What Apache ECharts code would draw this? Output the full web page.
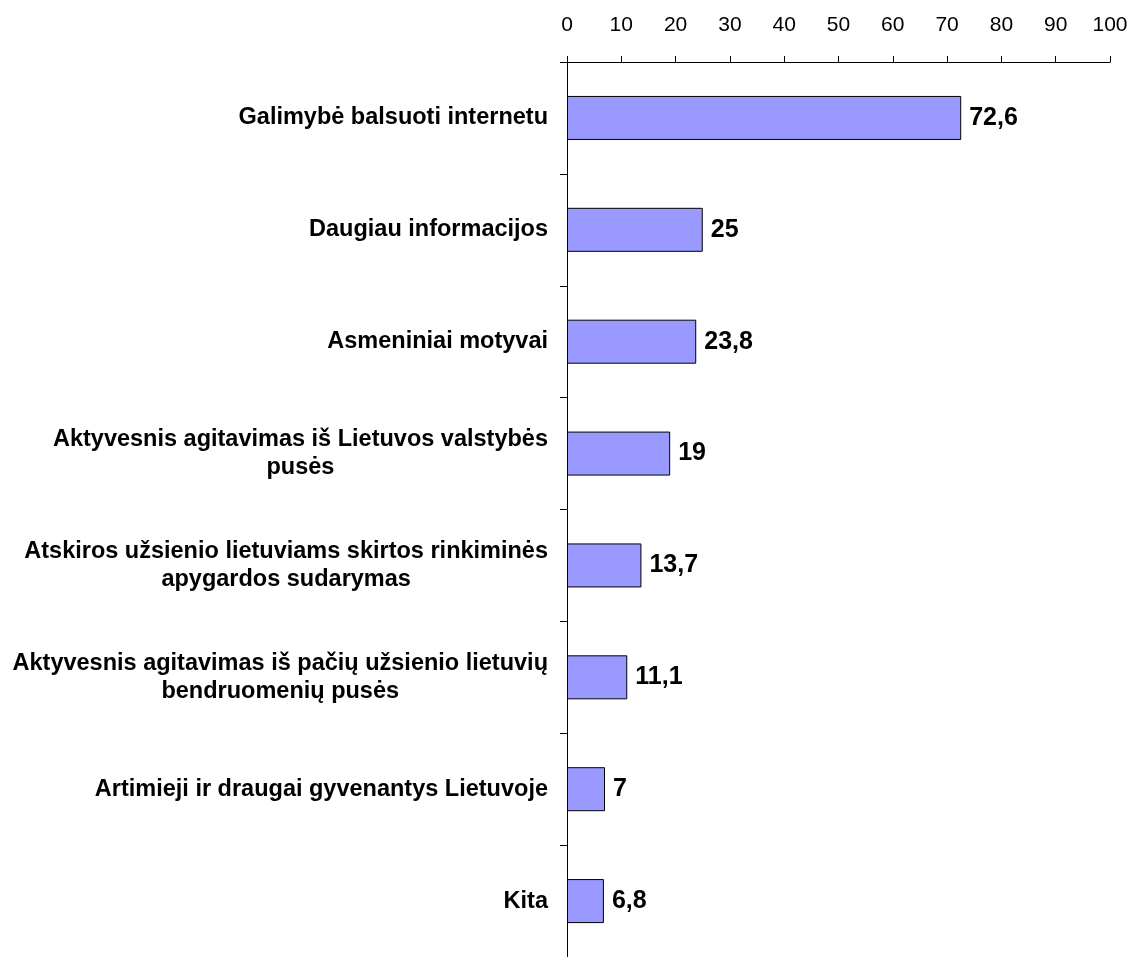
<!DOCTYPE html>
<html>
<head>
<meta charset="utf-8">
<script src="https://cdn.jsdelivr.net/npm/echarts@6/dist/echarts.min.js"></script>
<style>
html,body{margin:0;padding:0;background:#fff;}
#c{width:1139px;height:957px;}
</style>
</head>
<body>
<div id="c"></div>
<script>
const categories = [
  'Galimybė balsuoti internetu',
  'Daugiau informacijos',
  'Asmeniniai motyvai',
  'Aktyvesnis agitavimas iš Lietuvos valstybės\npusės',
  'Atskiros užsienio lietuviams skirtos rinkiminės\napygardos sudarymas',
  'Aktyvesnis agitavimas iš pačių užsienio lietuvių\nbendruomenių pusės',
  'Artimieji ir draugai gyvenantys Lietuvoje',
  'Kita'
];
const values = [72.6, 25, 23.8, 19, 13.7, 11.1, 7, 6.8];
const xTicks = { min: 0, max: 100, interval: 10 };

const chart = echarts.init(document.getElementById('c'), null, { renderer: 'canvas' });
const font = 'Liberation Sans, Arial, sans-serif';
chart.setOption({
  animation: false,
  backgroundColor: '#ffffff',
  grid: { left: 567, right: 29, top: 62, height: 898, containLabel: false },
  xAxis: {
    type: 'value', position: 'top',
    min: xTicks.min, max: xTicks.max, interval: xTicks.interval,
    axisLine: { show: true, lineStyle: { color: '#000', width: 1 } },
    axisTick: { show: true, length: 6, lineStyle: { color: '#000' } },
    splitLine: { show: false },
    axisLabel: { color: '#000', fontSize: 21, fontFamily: font, margin: 26 }
  },
  yAxis: {
    type: 'category', inverse: true, data: categories,
    axisLine: { show: true, lineStyle: { color: '#000', width: 1 } },
    axisTick: { show: true, length: 7, lineStyle: { color: '#000' } },
    axisLabel: {
      margin: 19, interval: 0,
      formatter: v => v.split('\n').map(s => '{c|' + s + '}').join('\n'),
      rich: { c: { align: 'center', color: '#000', fontSize: 23.5, fontWeight: 'bold', fontFamily: font, lineHeight: 28 } }
    }
  },
  series: [{
    type: 'bar', data: values, barWidth: 44,
    itemStyle: { color: '#9999FF', borderColor: '#000', borderWidth: 1 },
    label: {
      show: true, position: 'right', distance: 8,
      color: '#000', fontSize: 25, fontWeight: 'bold', fontFamily: font,
      formatter: p => String(p.value).replace('.', ',')
    }
  }]
});
</script>
</body>
</html>
